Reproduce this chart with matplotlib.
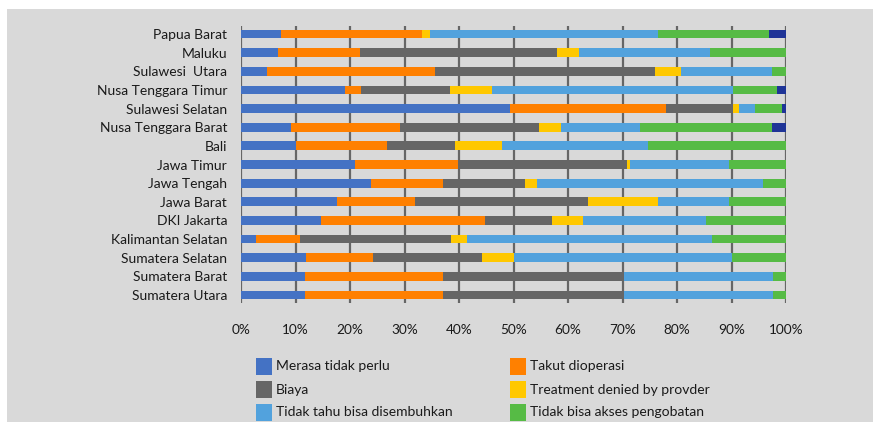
import matplotlib
matplotlib.use("Agg")
import matplotlib.pyplot as plt
from matplotlib.patches import Rectangle
import numpy as np

provinces = ["Papua Barat", "Maluku", "Sulawesi  Utara", "Nusa Tenggara Timur",
             "Sulawesi Selatan", "Nusa Tenggara Barat", "Bali", "Jawa Timur",
             "Jawa Tengah", "Jawa Barat", "DKI Jakarta", "Kalimantan Selatan",
             "Sumatera Selatan", "Sumatera Barat", "Sumatera Utara"]

categories = ["Merasa tidak perlu", "Takut dioperasi", "Biaya",
              "Treatment denied by provder", "Tidak tahu bisa disembuhkan",
              "Tidak bisa akses pengobatan", "Lainnya"]

merasa_tidak_perlu = [7.3, 6.8, 4.8, 19.0, 49.4, 9.1, 10.1, 20.9, 23.9, 17.6, 14.7, 2.7, 11.9, 11.8, 11.8]
takut_dioperasi    = [25.9, 15.0, 30.8, 3.0, 28.5, 20.0, 16.7, 18.9, 13.2, 14.4, 30.0, 8.1, 12.4, 25.3, 25.3]
biaya              = [0.0, 36.2, 40.4, 16.3, 12.3, 25.5, 12.5, 31.0, 15.1, 31.6, 12.4, 27.7, 20.0, 33.2, 33.2]
treatment_denied   = [1.4, 4.1, 4.7, 7.8, 1.2, 4.2, 8.5, 0.6, 2.2, 13.0, 5.7, 3.0, 5.7, 0.0, 0.0]
tidak_tahu         = [42.0, 23.9, 16.7, 44.2, 2.9, 14.4, 26.8, 18.2, 41.4, 13.0, 22.5, 44.9, 40.0, 27.4, 27.4]
tidak_bisa_akses   = [20.2, 14.0, 2.6, 8.0, 4.9, 24.2, 25.4, 10.4, 4.2, 10.4, 14.7, 13.6, 10.0, 2.3, 2.3]
lainnya            = [3.2, 0.0, 0.0, 1.7, 0.8, 2.6, 0.0, 0.0, 0.0, 0.0, 0.0, 0.0, 0.0, 0.0, 0.0]

xticks = [0, 10, 20, 30, 40, 50, 60, 70, 80, 90, 100]
xticklabels = [f"{t}%" for t in xticks]

series = [merasa_tidak_perlu, takut_dioperasi, biaya, treatment_denied,
          tidak_tahu, tidak_bisa_akses, lainnya]
colors = ["#4472C4", "#FF8000", "#666666", "#FFC800", "#52A2DD", "#56BB45", "#1F3497"]

plt.rcParams['font.family'] = ['Lato', 'DejaVu Sans']

W, H = 873, 422
fig = plt.figure(figsize=(W / 100, H / 100), dpi=100)
fig.patch.set_facecolor("white")
fig.patches.append(Rectangle((7 / W, 0), 1, (H - 9) / H, transform=fig.transFigure,
                             facecolor="#D9D9D9", edgecolor="none", zorder=-10))

ax_l, ax_r, ax_t, ax_b = 241, 786, 26, 303
ax = fig.add_axes([ax_l / W, 1 - ax_b / H, (ax_r - ax_l) / W, (ax_b - ax_t) / H])
ax.set_facecolor("none")
ax.set_zorder(1)

y = np.arange(len(provinces))
left = np.zeros(len(provinces))
for vals, col, lab in zip(series, colors, categories):
    v = np.array(vals)
    ax.barh(y, v, left=left, height=0.47, color=col, edgecolor="none", label=lab, zorder=3)
    left += v

ax.set_xlim(0, 100)
ax.set_ylim(len(provinces) - 1 + 0.43, -0.43)
ax.set_xticks(xticks)
ax.set_xticklabels(xticklabels, fontsize=9.8, color="#1a1a1a")
ax.set_yticks(y)
ax.set_yticklabels(provinces, fontsize=10, color="#1a1a1a")
ax.tick_params(axis="x", length=0, pad=15)
ax.tick_params(axis="y", length=0, pad=10)
for s in ax.spines.values():
    s.set_visible(False)
for t in xticks:
    ax.axvline(t, color="#666666", linewidth=1.6, zorder=1)

# legend (first six categories, two columns)
leg_items = [(0, 0, 0), (2, 0, 1), (4, 0, 2), (1, 1, 0), (3, 1, 1), (5, 1, 2)]
col_x = [256, 510]
row_y = [366, 389.5, 412]
for idx, c, r in leg_items:
    x0 = col_x[c]
    yc = row_y[r]
    fig.patches.append(Rectangle((x0 / W, 1 - (yc + 8.5) / H), 16 / W, 17 / H,
                                 transform=fig.transFigure, facecolor=colors[idx],
                                 edgecolor="none", zorder=2))
    fig.text((x0 + 20) / W, 1 - yc / H, categories[idx], fontsize=10,
             color="#1a1a1a", va="center", ha="left")

fig.savefig("out.png", dpi=100)
